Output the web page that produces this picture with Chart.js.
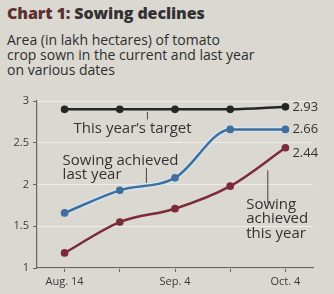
<!DOCTYPE html>
<html>
<head>
<meta charset="utf-8">
<script src="https://cdn.jsdelivr.net/npm/chart.js@4.4.0/dist/chart.umd.min.js"></script>
<style>
  html, body { margin: 0; padding: 0; }
  body { width: 334px; height: 294px; background: #dbd8d2; position: relative; overflow: hidden;
         font-family: "Open Sans", "DejaVu Sans", sans-serif; color: #2e2e2e; }
  #title { position: absolute; left: 7px; top: 2px; font-size: 16px; font-weight: 800; color: #333; letter-spacing: -0.1px; }
  #title span { color: #5a3030; }
  #sub { position: absolute; left: 7px; top: 32px; font-size: 14px; line-height: 15px; color: #2e2e2e; }
  canvas { position: absolute; left: 0; top: 0; }
</style>
</head>
<body>
<div id="title"><span>Chart 1:</span> Sowing declines</div>
<div id="sub">Area (in lakh hectares) of tomato<br>crop sown in the current and last year<br>on various dates</div>
<canvas id="chart" width="334" height="294"></canvas>
<script>
// Data
const dates = ['Aug. 14', '', 'Sep. 4', '', 'Oct. 4'];
const targetThisYear = [2.90, 2.90, 2.90, 2.90, 2.93];
const sownLastYear = [1.66, 1.93, 2.08, 2.66, 2.66];
const sownThisYear = [1.18, 1.55, 1.71, 1.98, 2.44];
const yTicks = [1, 1.5, 2, 2.5, 3];

const INK = '#333';
const FONT = '"Open Sans", "DejaVu Sans", sans-serif';

/**
 * Draws the in-chart notes and the end-of-line value labels,
 * positioned off the chart's own scales.
 */
const notesPlugin = {
  id: 'notes',
  afterDatasetsDraw(chart) {
    const { ctx, scales: { x, y } } = chart;
    const last = dates.length - 1;
    ctx.save();
    ctx.fillStyle = INK;
    ctx.strokeStyle = '#444';
    ctx.lineWidth = 1;
    ctx.font = '13px ' + FONT;
    ctx.textBaseline = 'middle';

    // end values
    ctx.textAlign = 'left';
    const xEnd = x.getPixelForValue(last) + 7;
    ctx.fillText(targetThisYear[last].toFixed(2), xEnd, y.getPixelForValue(targetThisYear[last]));
    ctx.fillText(sownLastYear[last].toFixed(2), xEnd, y.getPixelForValue(sownLastYear[last]));
    ctx.fillText(sownThisYear[last].toFixed(2), xEnd, y.getPixelForValue(sownThisYear[last]) + 6);

    // leader lines
    const lead = (px, v1, v2) => {
      ctx.beginPath();
      ctx.moveTo(px, y.getPixelForValue(v1));
      ctx.lineTo(px, y.getPixelForValue(v2));
      ctx.stroke();
    };
    const midX = (x.getPixelForValue(1) + x.getPixelForValue(2)) / 2;
    lead(midX, 2.87, 2.78);
    lead(midX - 1, 2.20, 2.02);
    const lateX = (x.getPixelForValue(3) + x.getPixelForValue(4)) / 2 + 10;
    lead(lateX, 2.17, 1.78);

    // note texts
    ctx.font = '15px ' + FONT;
    ctx.fillText('This year\u2019s target', x.getPixelForValue(0) + 9, y.getPixelForValue(2.67));
    ctx.fillText('Sowing achieved', x.getPixelForValue(0) - 2, y.getPixelForValue(2.29));
    ctx.fillText('last year', x.getPixelForValue(0) - 2, y.getPixelForValue(2.12));
    const noteX = x.getPixelForValue(3) + 16;
    ctx.fillText('Sowing', noteX, y.getPixelForValue(1.76));
    ctx.fillText('achieved', noteX, y.getPixelForValue(1.585));
    ctx.fillText('this year', noteX, y.getPixelForValue(1.41));
    ctx.restore();
  }
};

const line = (data, color, order) => ({
  data,
  borderColor: color,
  backgroundColor: color,
  borderWidth: 2.5,
  pointRadius: 2.6,
  pointHoverRadius: 2.6,
  cubicInterpolationMode: 'monotone',
  order
});

new Chart(document.getElementById('chart'), {
  type: 'line',
  data: {
    labels: dates,
    datasets: [
      line(targetThisYear, '#262626', 1),
      line(sownLastYear, '#3f6f9c', 1),
      // pale halo under the last-year line
      { data: sownLastYear, borderColor: 'rgba(214,230,240,0.9)', borderWidth: 5.5,
        pointRadius: 0, cubicInterpolationMode: 'monotone', order: 5 },
      line(sownThisYear, '#7a2c3a', 1)
    ]
  },
  options: {
    responsive: false,
    animation: false,
    layout: { padding: { left: 0, right: 21, top: 101, bottom: 0 } },
    plugins: { legend: { display: false }, tooltip: { enabled: false } },
    scales: {
      x: {
        offset: true,
        grid: { offset: false, drawOnChartArea: false, color: '#666', tickLength: 4 },
        border: { color: '#666', width: 1.2 },
        ticks: { color: '#3a3a3a', font: { family: FONT, size: 11 }, padding: 3,
                 autoSkip: false, maxRotation: 0 },
        afterFit: s => { s.height = 26; }
      },
      y: {
        min: 1, max: 3,
        afterBuildTicks: s => { s.ticks = yTicks.map(v => ({ value: v })); },
        grid: { color: 'rgba(245,243,238,0.75)', tickColor: '#666', tickLength: 4 },
        border: { color: '#666', width: 1.2 },
        ticks: { color: '#3a3a3a', font: { family: FONT, size: 11 }, padding: 4,
                 callback: v => String(v) },
        afterFit: s => { s.width = 37; }
      }
    }
  },
  plugins: [notesPlugin]
});
</script>
</body>
</html>
